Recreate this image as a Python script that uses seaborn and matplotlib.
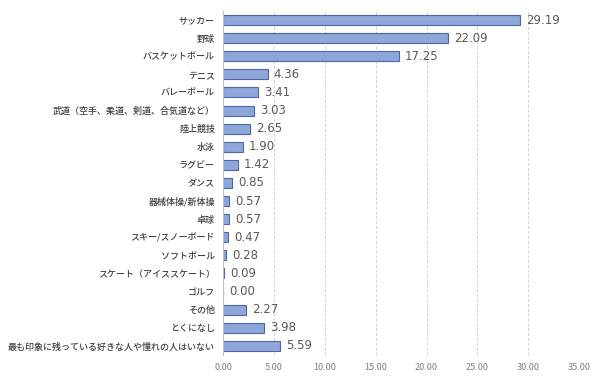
import matplotlib
matplotlib.use('Agg')
import matplotlib.pyplot as plt
import seaborn as sns
import pandas as pd

# data
categories = ['サッカー', '野球', 'バスケットボール', 'テニス', 'バレーボール',
              '武道（空手、柔道、剣道、合気道など）', '陸上競技', '水泳', 'ラグビー', 'ダンス',
              '器械体操/新体操', '卓球', 'スキー/スノーボード', 'ソフトボール',
              'スケート（アイススケート）', 'ゴルフ', 'その他', 'とくになし',
              '最も印象に残っている好きな人や憧れの人はいない']
values = [29.19, 22.09, 17.25, 4.36, 3.41, 3.03, 2.65, 1.90, 1.42, 0.85,
          0.57, 0.57, 0.47, 0.28, 0.09, 0.00, 2.27, 3.98, 5.59]
xticks = [0, 5, 10, 15, 20, 25, 30, 35]

sns.set_style('white')
plt.rcParams['font.family'] = ['Noto Sans CJK JP', 'DejaVu Sans']

df = pd.DataFrame({'category': categories, 'value': values})

fig = plt.figure(figsize=(6, 3.78), dpi=100)
ax = fig.add_axes([0.372, 0.061, 0.593, 0.91])

sns.barplot(data=df, x='value', y='category', orient='h', ax=ax,
            color='#8fa6da', edgecolor='#4a66ad', linewidth=0.8,
            width=0.55, saturation=1)

ax.set_xlim(0, 35)
ax.set_xticks(xticks)
ax.set_xticklabels([f'{t:.2f}' for t in xticks], fontsize=6.5, color='#7f7f7f')
ax.tick_params(axis='y', labelsize=6.5, colors='#404040', length=0, pad=6)
ax.tick_params(axis='x', length=0, pad=6)
for lbl in ax.get_yticklabels():
    lbl.set_fontweight('medium')
ax.set_xlabel('')
ax.set_ylabel('')

ax.grid(axis='x', linestyle=(0, (3, 2)), color='#d0d0d0', linewidth=0.7)
ax.set_axisbelow(True)
for s in ['top', 'right', 'bottom']:
    ax.spines[s].set_visible(False)
ax.spines['left'].set_color('#bfbfbf')
ax.spines['left'].set_linewidth(0.8)

for i, v in enumerate(values):
    ax.text(v + 0.6, i, f'{v:.2f}', va='center', ha='left',
            fontsize=8.5, color='#595959', family='DejaVu Sans')

fig.savefig('out.png', dpi=100)
